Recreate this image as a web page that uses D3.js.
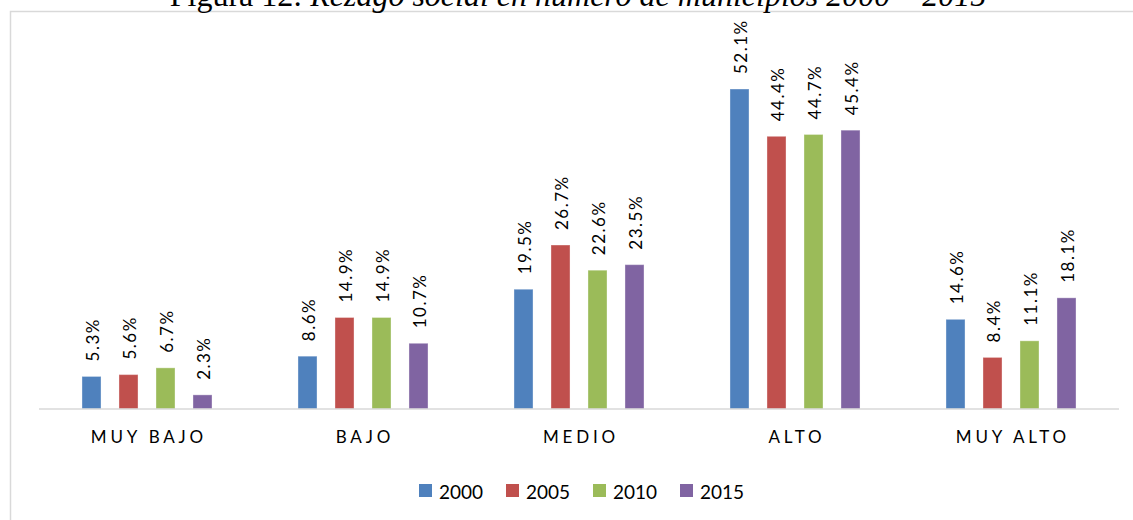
<!DOCTYPE html>
<html><head><meta charset="utf-8">
<script src="https://cdn.jsdelivr.net/npm/d3@7"></script>
<style>body{margin:0;background:#fff}svg{display:block}</style>
</head><body>
<svg id="c" width="1133" height="520"></svg>
<script>
const categories = ["MUY BAJO", "BAJO", "MEDIO", "ALTO", "MUY ALTO"];
const seriesNames = ["2000", "2005", "2010", "2015"];
const values2000 = [5.3, 8.6, 19.5, 52.1, 14.6];
const values2005 = [5.6, 14.9, 26.7, 44.4, 8.4];
const values2010 = [6.7, 14.9, 22.6, 44.7, 11.1];
const values2015 = [2.3, 10.7, 23.5, 45.4, 18.1];
const colors = ["#4F81BD", "#C0504D", "#9BBB59", "#8064A2"];
const seriesValues = [values2000, values2005, values2010, values2015];

const svg = d3.select("#c");
// outer frame
svg.append("rect").attr("x", 10.5).attr("y", 11.5).attr("width", 1140).attr("height", 530)
  .attr("fill", "none").attr("stroke", "#d9d9d9").attr("stroke-width", 1.5);

// title (cut off at top as in the source)
const title = svg.append("text").attr("x", 578).attr("y", 6).attr("text-anchor", "middle")
  .attr("font-family", "'Liberation Serif', 'Times New Roman', serif").attr("font-size", 32).attr("fill", "#000");
title.append("tspan").text("Figura 12: ");
title.append("tspan").attr("font-style", "italic").text("Rezago social en número de municipios 2000 – 2015");

const x0 = d3.scaleBand().domain(categories).range([39, 1119]);
const x1 = d3.scaleBand().domain(seriesNames).range([0, x0.bandwidth()]).paddingInner(0.486).paddingOuter(1.162);
const y = d3.scaleLinear().domain([0, 60]).range([409, 40.5]);

const data = [];
categories.forEach((c, i) => seriesNames.forEach((s, j) => data.push({c, s, v: seriesValues[j][i], col: colors[j]})));

const g = svg.append("g");
g.selectAll("rect.bar").data(data).join("rect").attr("class", "bar")
  .attr("x", d => x0(d.c) + x1(d.s)).attr("width", x1.bandwidth())
  .attr("y", d => y(d.v)).attr("height", d => y(0) - y(d.v))
  .attr("fill", d => d.col).attr("stroke", "#ffffff").attr("stroke-opacity", 0.35).attr("stroke-width", 1);

g.selectAll("text.lbl").data(data).join("text").attr("class", "lbl")
  .attr("transform", d => `translate(${x0(d.c) + x1(d.s) + x1.bandwidth() / 2 + 1},${y(d.v) - 15}) rotate(-90)`)
  .attr("dominant-baseline", "central")
  .attr("font-family", "Lato, 'Liberation Sans', sans-serif").attr("font-size", 17)
  .attr("letter-spacing", 1.5).attr("fill", "#000")
  .text(d => d.v.toFixed(1) + "%");

// axis
const axis = d3.axisBottom(x0).tickSize(0).tickPadding(34);
const ax = svg.append("g").attr("transform", "translate(0,409)").call(axis);
ax.select(".domain").attr("stroke", "#d9d9d9").attr("stroke-width", 1.5).attr("d", "M39,0H1119");
ax.selectAll(".tick text").attr("font-family", "Lato, 'Liberation Sans', sans-serif").attr("font-size", 17)
  .attr("letter-spacing", 3.8).attr("fill", "#000").attr("dy", "0").attr("dx", 1.9);

// legend
const leg = svg.append("g");
const lx = d3.scaleBand().domain(seriesNames).range([419, 767]);
const li = leg.selectAll("g").data(seriesNames).join("g").attr("transform", d => `translate(${lx(d)},0)`);
li.append("rect").attr("x", 0).attr("y", 484).attr("width", 13).attr("height", 13).attr("fill", (d, i) => colors[i]);
li.append("text").attr("x", 20).attr("y", 491).attr("dominant-baseline", "central")
  .attr("font-family", "Lato, 'Liberation Sans', sans-serif").attr("font-size", 19).attr("fill", "#000").text(d => d);
</script>
</body></html>
